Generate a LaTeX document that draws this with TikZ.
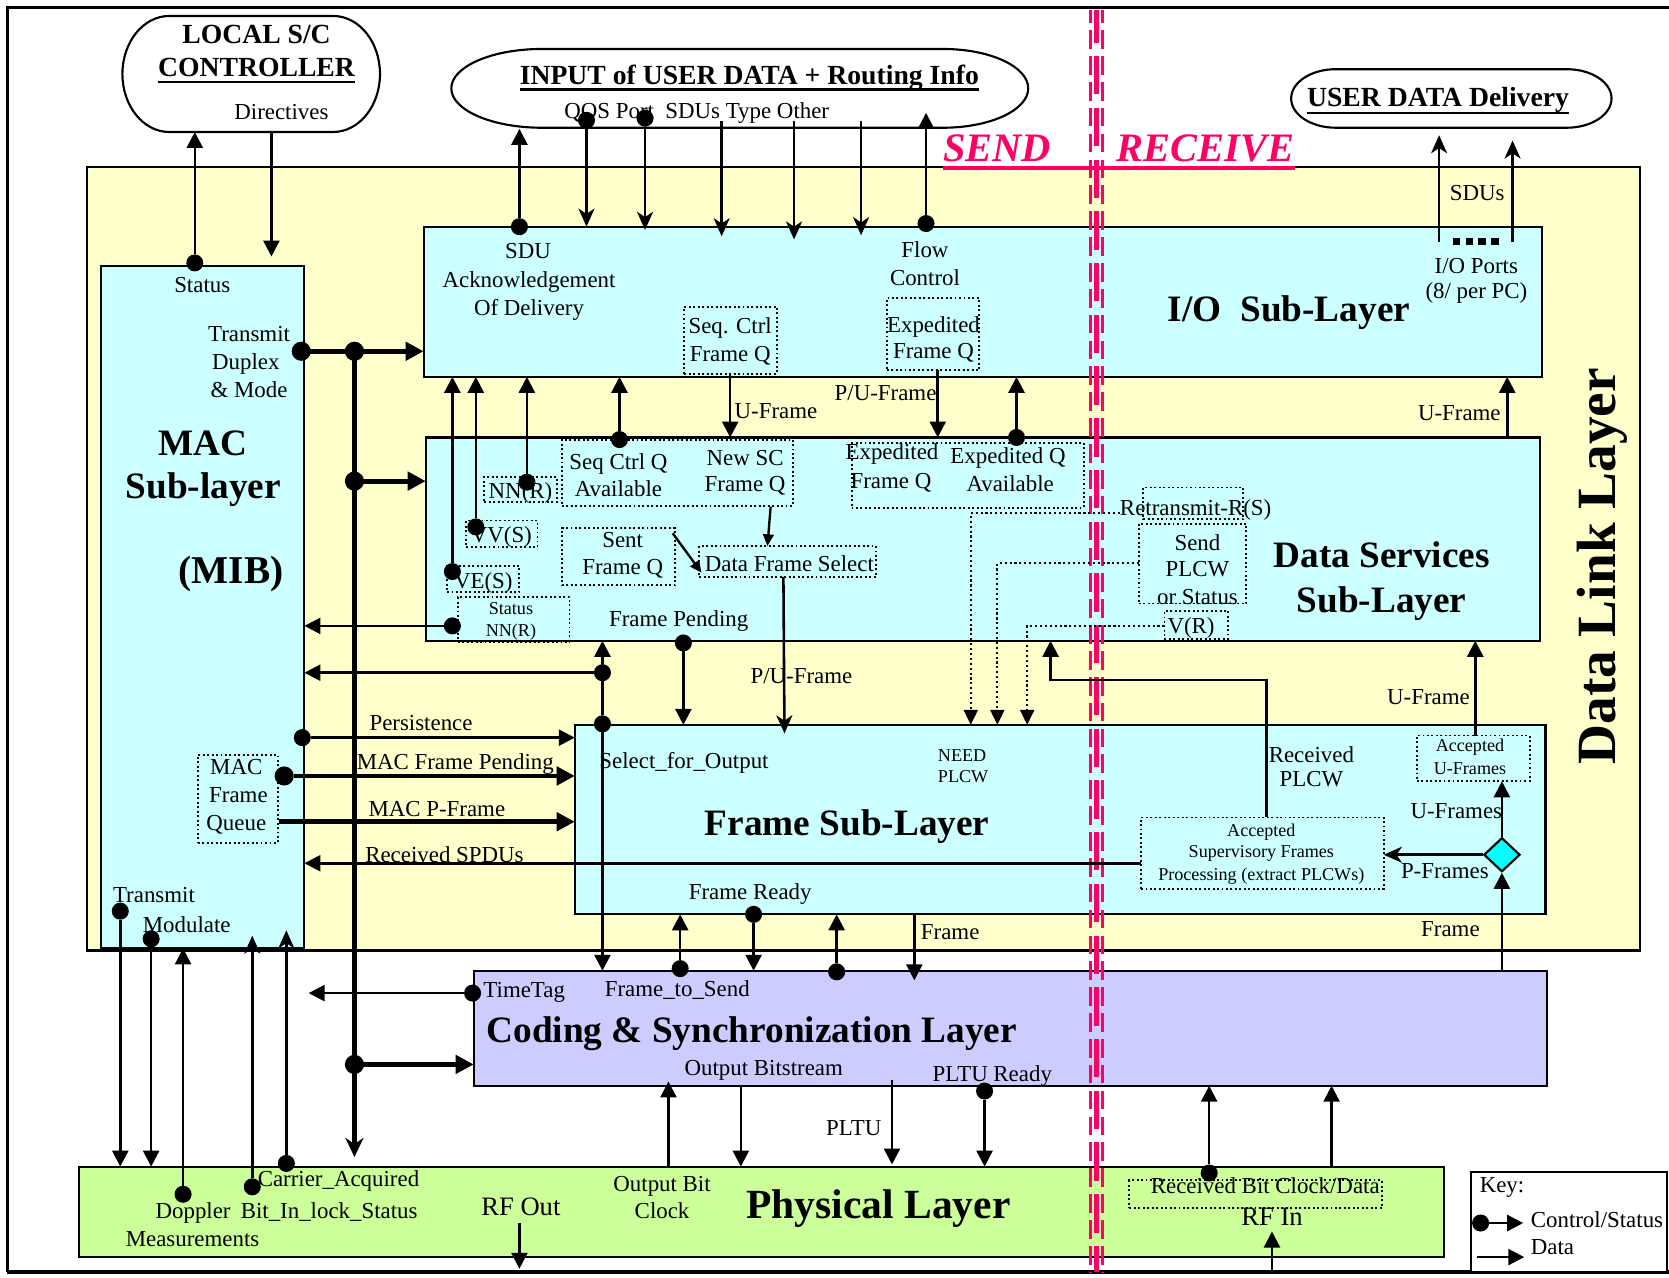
\documentclass[tikz,border=0pt]{standalone}
\usepackage{fontspec}
\setmainfont{Liberation Serif}
\usetikzlibrary{arrows.meta,shapes.geometric}
\definecolor{dlly}{HTML}{FFFFCC}
\definecolor{subc}{HTML}{CCFFFF}
\definecolor{csl}{HTML}{CCCCFF}
\definecolor{phg}{HTML}{CCFF99}
\definecolor{diac}{HTML}{00FFFF}
\definecolor{srd}{HTML}{FF0066}
\begin{document}
\begin{tikzpicture}[x=1pt,y=-1pt,
 box/.style={draw, line width=2pt, anchor=north west, inner sep=0pt, outer sep=0pt},
 dbox/.style={draw, line width=1.8pt, dash pattern=on 1.8pt off 2.4pt, anchor=north west, inner sep=0pt, outer sep=0pt},
 anch/.style={inner sep=0pt, outer sep=0pt},
 lb/.style={font=\fontsize{21.5}{24}\selectfont, inner sep=0pt, anchor=base},
 lbw/.style={lb, anchor=base west},
 sm/.style={font=\fontsize{17}{19}\selectfont, inner sep=0pt, anchor=base},
 smw/.style={sm, anchor=base west},
 tt/.style={font=\fontsize{35}{40}\selectfont\bfseries, inner sep=0pt, anchor=base},
 ttw/.style={tt, anchor=base west},
 hd/.style={font=\fontsize{26}{30}\selectfont\bfseries, inner sep=0pt, anchor=base},
 sendst/.style={font=\fontsize{38}{42}\selectfont\bfseries\itshape, text=srd, inner sep=0pt, anchor=base west},
 rf/.style={font=\fontsize{25}{28}\selectfont, inner sep=0pt, anchor=base},
 dat/.style={line width=2.4pt, -{Triangle[length=15pt,width=15pt]}},
 sdat/.style={line width=2.2pt, -{Triangle[length=11pt,width=10pt]}},
 stl/.style={line width=2.4pt, -{Stealth[length=17pt,width=15pt,inset=5pt]}},
 thkdat/.style={line width=4.5pt, -{Triangle[length=17pt,width=17pt]}},
 thkstl/.style={line width=4.5pt, -{Stealth[length=18pt,width=17pt,inset=6pt]}},
 dlnarr/.style={line width=2pt, dash pattern=on 2pt off 2.6pt, -{Triangle[length=14pt,width=13pt]}},
 dotn/.style={circle, fill=black, inner sep=0pt, outer sep=0pt, minimum size=16pt},
 bdot/.style={dotn, minimum size=18pt},
 redo/.style={draw=srd, line width=2.6pt, dash pattern=on 17.5pt off 6.8pt, dash phase=4.9pt},
 redm/.style={draw=srd, line width=4.5pt, dash pattern=on 36pt off 12.6pt, dash phase=4.9pt},
]
\useasboundingbox (0,0) rectangle (1568,1200);

% ---------- outer frame ----------
\draw[line width=2.5pt] (1568,7) -- (7,7) -- (7,1195);
\draw[line width=4pt] (7,1195) -- (1568,1195);

% ---------- top ovals ----------
\draw[line width=2pt, fill=white] (159,15) -- (313,15) .. controls (337.3,15) and (357,39.4) .. (357,69.5) .. controls (357,99.6) and (337.3,124) .. (313,124) -- (159,124) .. controls (134.7,124) and (115,99.6) .. (115,69.5) .. controls (115,39.4) and (134.7,15) .. (159,15) -- cycle;
\node[anch, minimum width=242pt, minimum height=109pt] (lsc) at (236,69.5) {};
\draw[line width=2pt, fill=white] (509,46) -- (886,46) .. controls (930.2,46) and (966,62.6) .. (966,83) .. controls (966,103.4) and (930.2,120) .. (886,120) -- (509,120) .. controls (462.1,120) and (424,103.4) .. (424,83) .. controls (424,62.6) and (462.1,46) .. (509,46) -- cycle;
\node[anch, minimum width=542pt, minimum height=74pt] (inp) at (695,83) {};
\draw[line width=2pt, fill=white] (1255,65) -- (1472,65) .. controls (1495.2,65) and (1514,77.3) .. (1514,92.5) .. controls (1514,107.7) and (1495.2,120) .. (1472,120) -- (1255,120) .. controls (1231.8,120) and (1213,107.7) .. (1213,92.5) .. controls (1213,77.3) and (1231.8,65) .. (1255,65) -- cycle;
\node[anch, minimum width=301pt, minimum height=55pt] (udd) at (1363.5,92.5) {};

% ---------- layer boxes ----------
\node[box, fill=dlly, minimum width=1459pt, minimum height=736pt] (dll) at (82,157) {};
\node[box, fill=subc, minimum width=191pt, minimum height=641pt] (mac) at (95,250) {};
\node[box, fill=subc, minimum width=1051pt, minimum height=141pt] (io) at (398,213) {};
\node[box, fill=subc, minimum width=1047pt, minimum height=191pt] (ds) at (400,411) {};
\node[box, fill=subc, minimum width=912pt, minimum height=178pt] (fr) at (540,681) {};
\node[box, fill=csl, minimum width=1008pt, minimum height=108pt] (cs) at (445,912) {};
\node[box, fill=phg, minimum width=1283pt, minimum height=85pt] (ph) at (74,1096) {};
\node[box, fill=white, minimum width=184pt, minimum height=94pt] (key) at (1382,1101) {};

% ---------- dotted inner boxes ----------
\node[dbox, minimum width=87pt, minimum height=63pt] (scf) at (643,288) {};
\node[dbox, minimum width=87pt, minimum height=68pt] (efq) at (833,280) {};
\node[dbox, minimum width=68pt, minimum height=24pt] (nnr) at (455,448) {};
\node[dbox, minimum width=67pt, minimum height=25pt] (vvs) at (438,489) {};
\node[dbox, minimum width=68pt, minimum height=24pt] (ves) at (420,532) {};
\node[dbox, minimum width=105pt, minimum height=42pt] (stnr) at (430,561) {};
\node[dbox, minimum width=217pt, minimum height=62pt] (sqa) at (528,413) {};
\node[dbox, minimum width=106pt, minimum height=54pt] (sfq) at (528,496) {};
\node[dbox, minimum width=166pt, minimum height=29pt] (dfs) at (657,513) {};
\node[dbox, minimum width=218pt, minimum height=61pt] (exq) at (800,416) {};
\node[dbox, minimum width=94pt, minimum height=30pt] (rtx) at (1074,458) {};
\node[dbox, minimum width=101pt, minimum height=75pt] (spl) at (1070,492) {};
\node[dbox, minimum width=60pt, minimum height=26pt] (vr) at (1094,574) {};
\node[dbox, minimum width=75pt, minimum height=83pt] (mfq) at (186,709) {};
\node[dbox, minimum width=106pt, minimum height=43pt] (auf) at (1331,691) {};
\node[dbox, minimum width=228pt, minimum height=67pt] (asf) at (1072,768) {};
\node[dbox, minimum width=237pt, minimum height=26pt] (rbc) at (1061,1109) {};
\node[diamond, draw, line width=2pt, fill=diac, inner sep=0pt, minimum width=34pt, minimum height=32pt] (dia) at (1411,803) {};

% ---------- texts ----------
\node[hd] (tLoc1) at (241,41) {LOCAL S/C};
\node[hd] (tLoc2) at (241,72) {CONTROLLER};
\draw[line width=2.5pt] ([yshift=-5pt]tLoc2.base west) -- ([yshift=-5pt]tLoc2.base east);
\node[lbw] (tDir) at (220,112) {Directives};
\node[hd] (tInp) at (704,79) {INPUT of USER DATA + Routing Info};
\draw[line width=2.5pt] ([yshift=-5pt]tInp.base west) -- ([yshift=-5pt]tInp.base east);
\node[lbw] (tQos) at (530,111) {QOS Port\ \ SDUs Type Other};
\node[hd] (tUdd) at (1351,100) {USER DATA Delivery};
\node[sendst] (tSend) at (886,152) {SEND};
\node[sendst] (tRecv) at (1049,152) {RECEIVE};
\node[font=\fontsize{52}{56}\selectfont\bfseries, rotate=90, anchor=base, inner sep=0pt] (tDll) at (1518,532) {Data Link Layer};

\node[lb] (tMst) at (190,275) {Status};
\node[lb] (tTr1) at (234,321) {Transmit};
\node[lb] (tTr2) at (231,347) {Duplex};
\node[lb] (tTr3) at (234,373) {\& Mode};
\node[tt] (tMac1) at (191,428) {MAC};
\node[tt] (tMac2) at (191,468) {Sub-layer};
\node[tt, font=\fontsize{37}{40}\selectfont\bfseries] (tMac3) at (217,548) {(MIB)};
\node[lb] (tMq1) at (222,728) {MAC};
\node[lb] (tMq2) at (224,754) {Frame};
\node[lb] (tMq3) at (222,780) {Queue};
\node[lbw] (tTrm) at (106,848) {Transmit};
\node[lbw] (tMod) at (134,876) {Modulate};

\node[lb] (tSdu1) at (496,243) {SDU};
\node[lb] (tSdu2) at (497,270) {Acknowledgement};
\node[lb] (tSdu3) at (497,296) {Of Delivery};
\node[lb] (tFl1) at (869,242) {Flow};
\node[lb] (tFl2) at (869,268) {Control};
\node[lb] (tSc1) at (686,313) {Seq. Ctrl};
\node[lb] (tSc2) at (686,340) {Frame Q};
\node[lb] (tEf1) at (877,312) {Expedited};
\node[lb] (tEf2) at (877,337) {Frame Q};
\node[ttw] (tIo) at (1097,302) {I/O\ \ Sub-Layer};
\node[lb] (tIop1) at (1387,257) {I/O Ports};
\node[lb] (tIop2) at (1387,280) {(8/ per PC)};
\node[lbw] (tSdus) at (1362,188) {SDUs};
\node[lbw] (tUf1) at (690,393) {U-Frame};
\node[lbw] (tPu1) at (784,376) {P/U-Frame};
\node[lb, anchor=base east] (tUf2) at (1410,395) {U-Frame};

\node[lb] (tNnr) at (489,468) {NN(R)};
\node[lb] (tVvs) at (471,510) {VV(S)};
\node[lb] (tVes) at (454,553) {VE(S)};
\node[sm] (tSn1) at (480,577) {Status};
\node[sm] (tSn2) at (480,598) {NN(R)};
\node[lb] (tSq1) at (581,441) {Seq Ctrl Q};
\node[lb] (tSq2) at (581,466) {Available};
\node[lb] (tNs1) at (700,437) {New SC};
\node[lb] (tNs2) at (700,462) {Frame Q};
\node[lb] (tSf1) at (585,514) {Sent};
\node[lb] (tSf2) at (585,540) {Frame Q};
\node[lbw] (tDfs) at (662,537) {Data Frame Select};
\node[lb] (tEx1) at (838,432) {Expedited};
\node[lb] (tEx2) at (837,459) {Frame Q};
\node[lb] (tEx3) at (947,435) {Expedited Q};
\node[lb] (tEx4) at (949,462) {Available};
\node[lbw] (tRtx) at (1052,484) {Retransmit-R(S)};
\node[lb] (tSp1) at (1125,517) {Send};
\node[lb] (tSp2) at (1125,542) {PLCW};
\node[lb] (tSp3) at (1125,568) {or Status};
\node[lb] (tVr) at (1119,595) {V(R)};
\node[tt] (tDs1) at (1298,533) {Data Services};
\node[tt] (tDs2) at (1298,575) {Sub-Layer};
\node[lbw] (tFp) at (572,589) {Frame Pending};
\node[lbw] (tPu2) at (705,642) {P/U-Frame};

\node[lbw] (tPer) at (347,686) {Persistence};
\node[lbw] (tMfp) at (335,723) {MAC Frame Pending};
\node[lbw] (tMpf) at (346,767) {MAC P-Frame};
\node[lbw] (tRsp) at (343,810) {Received SPDUs};

\node[lbw] (tSel) at (563,722) {Select\_for\_Output};
\node[smw] (tNd1) at (881,715) {NEED};
\node[smw] (tNd2) at (881,735) {PLCW};
\node[ttw] (tFr) at (662,785) {Frame Sub-Layer};
\node[lb] (tRp1) at (1232,716) {Received};
\node[lb] (tRp2) at (1232,739) {PLCW};
\node[sm] (tAu1) at (1381,706) {Accepted};
\node[sm] (tAu2) at (1381,728) {U-Frames};
\node[lbw] (tUfs) at (1325,769) {U-Frames};
\node[lbw] (tUf3) at (1303,662) {U-Frame};
\node[sm] (tAs1) at (1185,786) {Accepted};
\node[sm] (tAs2) at (1185,806) {Supervisory Frames};
\node[sm] (tAs3) at (1185,827) {Processing (extract PLCWs)};
\node[lbw] (tPfs) at (1316,825) {P-Frames};
\node[lbw] (tFrd) at (647,845) {Frame Ready};
\node[lbw] (tFrm1) at (865,883) {Frame};
\node[lbw] (tFrm2) at (1335,880) {Frame};

\node[lbw] (tTt) at (454,937) {TimeTag};
\node[lbw] (tFts) at (568,936) {Frame\_to\_Send};
\node[ttw] (tCs) at (457,979) {Coding \& Synchronization Layer};
\node[lbw] (tObs) at (643,1010) {Output Bitstream};
\node[lbw] (tPr) at (876,1016) {PLTU Ready};
\node[lbw] (tPl) at (776,1067) {PLTU};

\node[lb] (tOb1) at (622,1119) {Output Bit};
\node[lb] (tOb2) at (622,1145) {Clock};
\node[ttw, font=\fontsize{39}{42}\selectfont\bfseries] (tPh) at (701,1145) {Physical Layer};
\node[rf, anchor=base west] (tRfo) at (452,1142) {RF Out};
\node[rf] (tRfi) at (1195,1151) {RF In};
\node[lbw] (tRbc) at (1081,1121) {Received Bit Clock/Data};
\node[lbw] (tCar) at (242,1115) {Carrier\_Acquired};
\node[lbw] (tDop) at (146,1145) {Doppler};
\node[lbw] (tBil) at (226,1145) {Bit\_In\_lock\_Status};
\node[lbw] (tMea) at (118,1171) {Measurements};

\node[lbw] (tKey) at (1390,1120) {Key:};
\node[lbw] (tKcs) at (1438,1153) {Control/Status};
\node[lbw] (tKd) at (1438,1179) {Data};

% ---------- SEND / RECEIVE divider ----------
\draw[redo] (1024.3,9) -- (1024.3,1195);
\draw[redm] (1030,9) -- (1030,1195);
\draw[redo] (1035.5,9) -- (1035.5,1195);
\draw[srd, line width=4pt] ([yshift=-6pt]tSend.base west) -- ([yshift=-6pt]tRecv.base east);
\draw[line width=2.5pt] ([yshift=-6pt]tUdd.base west) -- ([yshift=-6pt]tUdd.base east);

% ---------- connectors: top ----------
\node[dotn] (dStat) at (183,247) {};
\draw[dat] (dStat) -- (dStat |- lsc.south);
\coordinate (cDirE) at (255,241);
\draw[dat] (cDirE |- lsc.south) -- (cDirE);
\node[dotn] (dSdu) at (488,213) {};
\coordinate (cSduE) at (488,121);
\draw[dat] (dSdu) -- (cSduE);
\node[dotn] (dQos) at (551,113) {};
\coordinate (cQos) at (551,213);
\draw[stl] (dQos) -- (cQos);
\node[dotn] (dPort) at (606,111) {};
\coordinate (cPort) at (606,216);
\draw[stl] (dPort) -- (cPort);
\coordinate (cSdA) at (678,114); \coordinate (cSdB) at (678,222);
\draw[stl] (cSdA) -- (cSdB);
\coordinate (cTyA) at (746,114); \coordinate (cTyB) at (746,225);
\draw[stl] (cTyA) -- (cTyB);
\coordinate (cOtA) at (809,114); \coordinate (cOtB) at (809,221);
\draw[stl] (cOtA) -- (cOtB);
\node[dotn] (dFlow) at (870,210) {};
\coordinate (cFlow) at (870,106);
\draw[dat] (dFlow) -- (cFlow);
\coordinate (cUdA) at (1352,227); \coordinate (cUdAE) at (1352,127);
\draw[stl] (cUdA) -- (cUdAE);
\coordinate (cUdB) at (1421,227); \coordinate (cUdBE) at (1421,132);
\draw[stl] (cUdB) -- (cUdBE);
\draw[line width=7pt, dash pattern=on 7pt off 5pt] (1365,227) -- (1412,227);

% ---------- MAC bus ----------
\node[bdot] (dTdm) at (283,330) {};
\node[bdot] (jA) at (333,330) {};
\node[bdot] (jB) at (333,452) {};
\node[bdot] (jC) at (333,1000) {};
\coordinate (cBusE) at (333,1087);
\draw[thkdat] (dTdm.center) -- (io.west |- dTdm);
\draw[thkstl] (jA.center) -- (cBusE);
\draw[thkdat] (jB.center) -- (ds.west |- jB);
\draw[thkdat] (jC.center) -- (cs.west |- jC);

% ---------- DS <-> I/O ----------
\node[dotn] (dVes) at (425,537) {};
\node[dotn] (dVvs) at (447,495) {};
\node[dotn] (dNnr) at (495,453) {};
\node[dotn] (dSqa) at (582,413) {};
\node[dotn] (dExa) at (955,411) {};
\draw[dat] (dVes) -- (dVes |- io.south);
\draw[dat] (dVvs) -- (dVvs |- io.south);
\draw[dat] (dNnr) -- (dNnr |- io.south);
\draw[dat] (dSqa) -- (dSqa |- io.south);
\draw[dat] (dExa) -- (dExa |- io.south);
\coordinate (cUfA) at (686,351);
\draw[dat] (cUfA) -- (cUfA |- ds.north);
\coordinate (cPuA) at (881,348);
\draw[dat] (cPuA) -- (cPuA |- ds.north);
\coordinate (cUfR) at (1416,411);
\draw[dat] (cUfR) -- (cUfR |- io.south);

% ---------- DS internal ----------
\coordinate (cNsc) at (724,476); \coordinate (cNscE) at (721,513);
\draw[sdat] (cNsc) -- (cNscE);
\coordinate (cSfq) at (632,501); \coordinate (cSfqE) at (659,538);
\draw[sdat] (cSfq) -- (cSfqE);
\coordinate (cDfs) at (736,542); \coordinate (cDfsE) at (737,689);
\draw[stl] (cDfs) -- (cDfsE);
\node[dotn] (dStnr) at (425,588) {};
\draw[dat] (dStnr) -- (mac.east |- dStnr);
\node[dotn] (dSel) at (566,680) {};
\node[dotn] (dSelB) at (566,632) {};
\draw[dat] (dSel) -- (dSel |- ds.south);
\draw[dat] (dSelB) -- (mac.east |- dSelB);
\draw[dat] (dSel) -- (dSel |- cs.north);
\node[dotn] (dFp) at (642,604) {};
\draw[dat] (dFp) -- (dFp |- fr.north);

\coordinate (cRtx) at (1052,482); \coordinate (cRtxE) at (912,681);
\draw[dlnarr] (cRtx) -| (cRtxE);
\coordinate (cSpl) at (1070,529); \coordinate (cSplE) at (937,681);
\draw[dlnarr] (cSpl) -| (cSplE);
\coordinate (cVr) at (1094,588); \coordinate (cVrE) at (965,681);
\draw[dlnarr] (cVr) -| (cVrE);
\coordinate (cRp) at (1190,768); \coordinate (cRpM) at (987,639); \coordinate (cRpE) at (987,602);
\draw[dat] (cRp) |- (cRpM) -- (cRpE);

% ---------- MAC <-> Frame ----------
\node[dotn] (dPer) at (284,693) {};
\draw[dat] (dPer) -- (fr.west |- dPer);
\node[bdot] (dMfp) at (267,729) {};
\draw[thkdat] (dMfp) -- (fr.west |- dMfp);
\coordinate (cMpf) at (262,772);
\draw[thkdat] (cMpf) -- (fr.west |- cMpf);
\coordinate (cRsp) at (1072,811);
\draw[dat] (cRsp) -- (mac.east |- cRsp);

% ---------- MAC <-> Physical ----------
\node[dotn] (dTm) at (113,856) {};
\draw[dat] (dTm) -- (dTm |- ph.north);
\node[dotn] (dMod) at (142,882) {};
\draw[dat] (dMod) -- (dMod |- ph.north);
\node[dotn] (dDop) at (172,1122) {};
\draw[dat] (dDop) -- (dDop |- mac.south);
\node[dotn] (dBil) at (237,1115) {};
\coordinate (cBilE) at (237,879);
\draw[stl] (dBil) -- (cBilE);
\node[dotn] (dCar) at (269,1093) {};
\coordinate (cCarE) at (269,874);
\draw[stl] (dCar) -- (cCarE);
\node[dotn] (dTt) at (444,933) {};
\coordinate (cTtE) at (290,933);
\draw[dat] (dTt) -- (cTtE);

% ---------- Frame <-> Coding ----------
\node[dotn] (dFts) at (639,910) {};
\draw[dat] (dFts) -- (dFts |- fr.south);
\node[dotn] (dFrd) at (708,859) {};
\draw[dat] (dFrd) -- (dFrd |- cs.north);
\node[dotn] (dCs3) at (786,913) {};
\draw[dat] (dCs3) -- (dCs3 |- fr.south);
\coordinate (cFrm) at (859,859); \coordinate (cFrmE) at (859,921);
\draw[dat] (cFrm) -- (cFrmE);
\coordinate (cFrR) at (1411,912);
\draw[dat] (cFrR) -- (dia.south);
\draw[dat] (dia.north) -- (dia.north |- auf.south);
\draw[stl] (dia.west) -- (asf.east |- dia.west);
\coordinate (cAuf) at (1386,691);
\draw[dat] (cAuf) -- (cAuf |- ds.south);

% ---------- Coding <-> Physical ----------
\coordinate (cObc) at (628,1096); \coordinate (cObcE) at (628,1016);
\draw[dat] (cObc) -- (cObcE);
\coordinate (cObs) at (696,1020);
\draw[dat] (cObs) -- (cObs |- ph.north);
\coordinate (cPl) at (838,1015); \coordinate (cPlE) at (838,1094);
\draw[dat] (cPl) -- (cPlE);
\node[dotn] (dPr) at (925,1025) {};
\draw[dat] (dPr) -- (dPr |- ph.north);
\node[dotn] (dRb) at (1136,1102) {};
\draw[dat] (dRb) -- (dRb |- cs.south);
\coordinate (cRb2) at (1251,1096);
\draw[dat] (cRb2) -- (cRb2 |- cs.south);
\coordinate (cRfi) at (1195,1194); \coordinate (cRfiE) at (1195,1157);
\draw[dat] (cRfi) -- (cRfiE);
\coordinate (cRfo) at (488,1149); \coordinate (cRfoE) at (488,1192);
\draw[dat] (cRfo) -- (cRfoE);

% ---------- key ----------
\node[dotn] (dKey) at (1391,1149) {};
\coordinate (cKeyE) at (1431,1149);
\draw[dat] (dKey) -- (cKeyE);
\coordinate (cKd) at (1388,1181); \coordinate (cKdE) at (1432,1181);
\draw[dat] (cKd) -- (cKdE);
\end{tikzpicture}
\end{document}
